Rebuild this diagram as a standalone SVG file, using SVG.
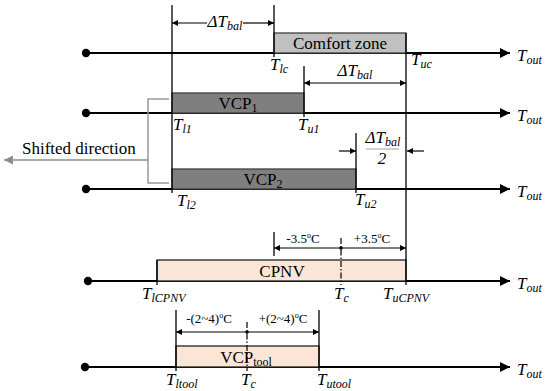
<svg xmlns="http://www.w3.org/2000/svg" width="550" height="391" viewBox="0 0 550 391">
<defs>
<marker id="ah" viewBox="0 0 10 10" refX="10" refY="5" markerWidth="16" markerHeight="10" markerUnits="userSpaceOnUse" orient="auto-start-reverse"><path d="M0,0 L10,5 L0,10 z" fill="#000"/></marker>
<marker id="dh" viewBox="0 0 10 10" refX="10" refY="5" markerWidth="10" markerHeight="6" markerUnits="userSpaceOnUse" orient="auto-start-reverse"><path d="M0,0 L10,5 L0,10 z" fill="#000"/></marker>
<marker id="gh" viewBox="0 0 10 10" refX="10" refY="5" markerWidth="13" markerHeight="9" markerUnits="userSpaceOnUse" orient="auto"><path d="M0,0 L10,5 L0,10 z" fill="#8c8c8c"/></marker>
</defs>
<style>
.ax{stroke:#000;stroke-width:2.2;fill:none}
.v{stroke:#000;stroke-width:1.3;fill:none}
.dim{stroke:#000;stroke-width:1.2;fill:none}
.dd{stroke:#000;stroke-width:1.2;stroke-dasharray:6 2 1.5 2;fill:none}
.lb{font-family:"Liberation Serif",serif;font-style:italic;font-size:17px;fill:#000}
.sb{font-size:12px}
.tx{font-family:"Liberation Serif",serif;font-size:17px;fill:#000}
.sm{font-family:"Liberation Serif",serif;font-size:13px;fill:#000}
</style>
<rect width="550" height="391" fill="#fff"/>

<g id="axes">
<g id="axis1"><circle cx="86" cy="53" r="4.2"/><line class="ax" x1="86" y1="53" x2="510" y2="53" marker-end="url(#ah)"/><text class="lb" x="517" y="61">T<tspan class="sb" dy="3">out</tspan></text></g>
<g id="axis2"><circle cx="86" cy="113" r="4.2"/><line class="ax" x1="86" y1="113" x2="510" y2="113" marker-end="url(#ah)"/><text class="lb" x="517" y="121">T<tspan class="sb" dy="3">out</tspan></text></g>
<g id="axis3"><circle cx="86" cy="189" r="4.2"/><line class="ax" x1="86" y1="189" x2="510" y2="189" marker-end="url(#ah)"/><text class="lb" x="517" y="197">T<tspan class="sb" dy="3">out</tspan></text></g>
<g id="axis4"><circle cx="88" cy="281" r="4.2"/><line class="ax" x1="88" y1="281" x2="510" y2="281" marker-end="url(#ah)"/><text class="lb" x="517" y="289">T<tspan class="sb" dy="3">out</tspan></text></g>
<g id="axis5"><circle cx="85" cy="367" r="4.2"/><line class="ax" x1="85" y1="367" x2="510" y2="367" marker-end="url(#ah)"/><text class="lb" x="517" y="375">T<tspan class="sb" dy="3">out</tspan></text></g>
</g>

<g id="comfort"><rect x="274" y="33" width="132" height="20" fill="#c0c0c0" stroke="#404040" stroke-width="1.3"/><text class="tx" x="340" y="49" text-anchor="middle" font-size="18">Comfort zone</text></g>
<g id="vcp1"><rect x="172" y="93" width="132" height="20" fill="#7f7f7f" stroke="#404040" stroke-width="1.3"/><text class="tx" x="238" y="109" text-anchor="middle">VCP<tspan class="sb" dy="3">1</tspan></text></g>
<g id="vcp2"><rect x="172" y="169" width="184" height="20" fill="#7f7f7f" stroke="#404040" stroke-width="1.3"/><text class="tx" x="263" y="185" text-anchor="middle">VCP<tspan class="sb" dy="3">2</tspan></text></g>
<g id="cpnv"><rect x="157" y="260" width="249" height="21" fill="#fbe5d6" stroke="#222" stroke-width="1.3"/><text class="tx" x="282" y="277" text-anchor="middle" font-size="18">CPNV</text></g>
<g id="vcptool"><rect x="176" y="346" width="143" height="21" fill="#fbe5d6" stroke="#222" stroke-width="1.3"/><text class="tx" x="246" y="363" text-anchor="middle" font-size="18">VCP<tspan class="sb" font-size="13" dy="3">tool</tspan></text></g>

<g id="connectors">
<line class="v" x1="172" y1="5" x2="172" y2="193"/>
<line class="v" x1="274" y1="5" x2="274" y2="57"/>
<line class="v" x1="304" y1="66" x2="304" y2="117"/>
<line class="v" x1="406" y1="33" x2="406" y2="285"/>
<line class="v" x1="356" y1="133" x2="356" y2="193"/>
<line class="v" x1="274" y1="232" x2="274" y2="256"/>
<line class="v" x1="157" y1="260" x2="157" y2="285"/>
<line class="v" x1="176" y1="310" x2="176" y2="371"/>
<line class="v" x1="319" y1="310" x2="319" y2="371"/>
<line class="dd" x1="341" y1="238" x2="341" y2="285"/>
<line class="dd" x1="247" y1="322" x2="247" y2="371"/>
<line class="dim" x1="207" y1="23" x2="172" y2="23" marker-end="url(#dh)"/>
<line class="dim" x1="243" y1="23" x2="274" y2="23" marker-end="url(#dh)"/>
<line class="dim" x1="304" y1="83" x2="406" y2="83" marker-start="url(#dh)" marker-end="url(#dh)"/>
<line class="dim" x1="339" y1="151" x2="356" y2="151" marker-end="url(#dh)"/>
<line class="dim" x1="424" y1="151" x2="407" y2="151" marker-end="url(#dh)"/>
<line class="dim" x1="274" y1="248" x2="406" y2="248" marker-start="url(#dh)" marker-end="url(#dh)"/>
<circle cx="341" cy="248" r="1.8"/>
<line class="dim" x1="176" y1="332" x2="319" y2="332" marker-start="url(#dh)" marker-end="url(#dh)"/>
<circle cx="247" cy="332" r="1.8"/>
<line x1="366" y1="149" x2="399" y2="149" stroke="#888" stroke-width="0.8"/>
<polyline points="169,99 148,99 148,183 169,183" fill="none" stroke="#999" stroke-width="1.5"/>
<line x1="148" y1="160" x2="4" y2="160" stroke="#8c8c8c" stroke-width="1.5" marker-end="url(#gh)"/>
</g>

<g id="labels">
<text class="lb" x="225" y="27" text-anchor="middle">ΔT<tspan class="sb" dy="3">bal</tspan></text>
<text class="lb" x="355" y="76" text-anchor="middle">ΔT<tspan class="sb" dy="3">bal</tspan></text>
<text class="lb" x="383" y="143" text-anchor="middle">ΔT<tspan class="sb" dy="3">bal</tspan></text>
<text class="lb" x="382" y="164" text-anchor="middle">2</text>
<text class="tx" x="22" y="154" font-size="17.6">Shifted direction</text>
<text class="lb" x="270" y="70">T<tspan class="sb" dy="3">lc</tspan></text>
<text class="lb" x="411" y="65">T<tspan class="sb" dy="3">uc</tspan></text>
<text class="lb" x="173" y="130">T<tspan class="sb" dy="3">l1</tspan></text>
<text class="lb" x="298" y="130">T<tspan class="sb" dy="3">u1</tspan></text>
<text class="lb" x="177" y="206">T<tspan class="sb" dy="3">l2</tspan></text>
<text class="lb" x="355" y="205">T<tspan class="sb" dy="3">u2</tspan></text>
<text class="lb" x="142" y="299">T<tspan class="sb" dy="3">lCPNV</tspan></text>
<text class="lb" x="334" y="299">T<tspan class="sb" dy="3">c</tspan></text>
<text class="lb" x="383" y="299">T<tspan class="sb" dy="3">uCPNV</tspan></text>
<text class="lb" x="166" y="385">T<tspan class="sb" dy="3">ltool</tspan></text>
<text class="lb" x="241" y="385">T<tspan class="sb" dy="3">c</tspan></text>
<text class="lb" x="317" y="385">T<tspan class="sb" dy="3">utool</tspan></text>
<text class="sm" x="303" y="243" text-anchor="middle">-3.5<tspan font-size="8" dy="-5">o</tspan><tspan dy="5">C</tspan></text>
<text class="sm" x="372" y="243" text-anchor="middle">+3.5<tspan font-size="8" dy="-5">o</tspan><tspan dy="5">C</tspan></text>
<text class="sm" x="209" y="323" text-anchor="middle">-(2~4)<tspan font-size="8" dy="-5">o</tspan><tspan dy="5">C</tspan></text>
<text class="sm" x="283" y="323" text-anchor="middle">+(2~4)<tspan font-size="8" dy="-5">o</tspan><tspan dy="5">C</tspan></text>
</g>
</svg>
